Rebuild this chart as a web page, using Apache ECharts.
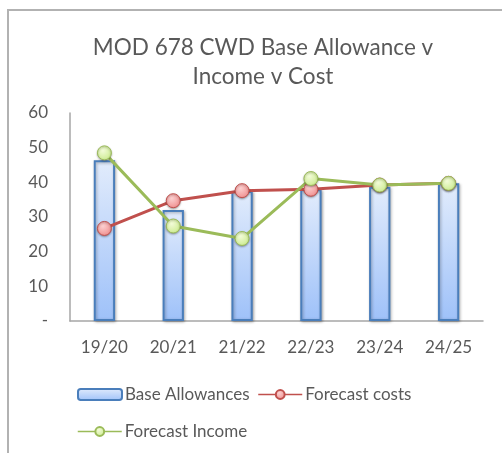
<!DOCTYPE html>
<html>
<head>
<meta charset="utf-8">
<script src="https://cdn.jsdelivr.net/npm/echarts@6/dist/echarts.min.js"></script>
<style>
    html, body { margin: 0; padding: 0; background: #fff; }
    #frame { position: absolute; left: 7px; top: 9px; width: 495px; height: 444px;
             border-left: 2px solid #b2b2b2; border-top: 2px solid #b2b2b2; }
    #main { position: absolute; left: 0; top: 0; width: 502px; height: 453px; }
</style>
</head>
<body>
<div id="frame"></div>
<div id="main"></div>
<script>
var years = ['19/20', '20/21', '21/22', '22/23', '23/24', '24/25'];
var baseAllowances = [46.4, 32.0, 37.5, 38.0, 38.7, 39.7];
var forecastCosts = [26.7, 34.7, 37.6, 38.0, 39.2, 39.7];
var forecastIncome = [48.5, 27.4, 23.8, 41.1, 39.2, 39.7];
var yTicks = [0, 10, 20, 30, 40, 50, 60];

var textColor = '#595959';
var font = 'Lato';

function buildOption() {
    var legendText = { fontFamily: font, fontSize: 17, color: textColor, padding: [0, 0, 0, -2] };
    return {
        title: {
            text: 'MOD 678 CWD Base Allowance v\nIncome v Cost',
            left: 258,
            textAlign: 'center',
            top: 28,
            textStyle: {
                fontFamily: font,
                fontSize: 22.5,
                fontWeight: 'normal',
                color: textColor,
                lineHeight: 29
            }
        },
        legend: [{
            data: ['Base Allowances', 'Forecast costs'],
            left: 72,
            top: 381,
            itemWidth: 44,
            itemHeight: 11,
            itemGap: 8,
            lineStyle: { width: 1.5 },
            textStyle: legendText
        }, {
            data: ['Forecast Income'],
            left: 72,
            top: 418,
            itemWidth: 44,
            itemHeight: 11,
            lineStyle: { width: 1.5 },
            textStyle: legendText
        }],
        grid: {
            left: 70,
            right: 19,
            top: 113,
            bottom: 132
        },
        xAxis: {
            type: 'category',
            data: years,
            axisLine: { lineStyle: { color: '#a6a6a6', width: 1.5 } },
            axisTick: { show: false },
            axisLabel: { fontFamily: font, fontSize: 17, color: textColor, margin: 18 }
        },
        yAxis: {
            type: 'value',
            min: yTicks[0],
            max: yTicks[yTicks.length - 1],
            interval: 10,
            axisLine: { show: true, lineStyle: { color: '#a6a6a6', width: 1.5 } },
            axisTick: { show: false },
            splitLine: { show: false },
            axisLabel: {
                fontFamily: font, fontSize: 17, color: textColor, margin: 22,
                formatter: function (v) { return v === 0 ? '-' : v; }
            }
        },
        series: [{
            name: 'Base Allowances',
            type: 'bar',
            data: baseAllowances,
            barWidth: '31%',
            itemStyle: {
                color: new echarts.graphic.LinearGradient(0, 0, 0, 1, [
                    { offset: 0, color: '#e2ecfc' },
                    { offset: 1, color: '#9ec1f9' }
                ]),
                borderColor: '#4a7ebb',
                borderWidth: 2,
                shadowColor: 'rgba(0,0,0,0.3)',
                shadowBlur: 3,
                shadowOffsetX: 1,
                shadowOffsetY: 1
            }
        }, {
            name: 'Forecast costs',
            type: 'line',
            data: forecastCosts,
            symbol: 'circle',
            symbolSize: 14,
            lineStyle: { color: '#c0504d', width: 3 },
            itemStyle: {
                color: new echarts.graphic.RadialGradient(0.4, 0.35, 0.7, [
                    { offset: 0, color: '#fbd0d0' },
                    { offset: 1, color: '#f08c8c' }
                ]),
                borderColor: '#c0504d',
                borderWidth: 1,
                shadowColor: 'rgba(0,0,0,0.3)',
                shadowBlur: 2,
                shadowOffsetY: 1
            }
        }, {
            name: 'Forecast Income',
            type: 'line',
            data: forecastIncome,
            symbol: 'circle',
            symbolSize: 14,
            lineStyle: { color: '#9bbb59', width: 3 },
            itemStyle: {
                color: new echarts.graphic.RadialGradient(0.4, 0.35, 0.7, [
                    { offset: 0, color: '#f2fbd8' },
                    { offset: 1, color: '#cbeb8d' }
                ]),
                borderColor: '#9bbb59',
                borderWidth: 1,
                shadowColor: 'rgba(0,0,0,0.3)',
                shadowBlur: 2,
                shadowOffsetY: 1
            }
        }]
    };
}

var chart = echarts.init(document.getElementById('main'));
chart.setOption(buildOption());
</script>
</body>
</html>
